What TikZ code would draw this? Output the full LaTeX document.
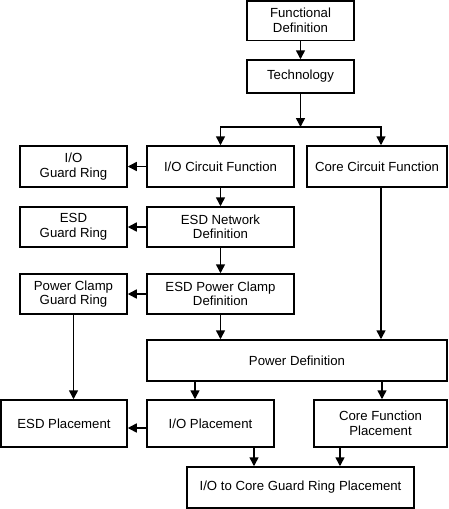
\documentclass[tikz,border=0pt]{standalone}
\usepackage{fontspec}
\setmainfont{Liberation Sans}
\usetikzlibrary{arrows.meta,calc}
\begin{document}
\begin{tikzpicture}[x=1pt,y=-1pt,
  box/.style={draw,line width=1.5pt,inner sep=0pt,align=center,
    font=\fontsize{13.2}{14.5}\selectfont},
  arr/.style={line width=1.5pt,-{Triangle[length=9pt,width=9pt]}},
  ln/.style={line width=1.5pt}]
\useasboundingbox (0,0) rectangle (448,509);
\node[box,minimum width=107pt,minimum height=39.5pt] (fd) at (300.5,20.5) {Functional\\Definition};
\node[box,minimum width=107pt,minimum height=33pt] (tech) at (300.5,76.5) {Technology};
\node[box,minimum width=107pt,minimum height=41pt] (iogr) at (73.5,166.5) {I/O\\Guard Ring};
\node[box,minimum width=147pt,minimum height=41pt] (icf) at (220.5,166.5) {I/O Circuit Function};
\node[box,minimum width=140pt,minimum height=41pt] (ccf) at (377,166.5) {Core Circuit Function};
\node[box,minimum width=107pt,minimum height=40pt] (esdgr) at (73.5,227) {ESD\\Guard Ring};
\node[box,minimum width=147pt,minimum height=40pt] (esdnd) at (220.5,227) {ESD Network\\Definition};
\node[box,minimum width=107pt,minimum height=40pt] (pcgr) at (73.5,294) {Power Clamp\\Guard Ring};
\node[box,minimum width=147pt,minimum height=40pt] (epcd) at (220.5,294) {ESD Power Clamp\\Definition};
\node[box,minimum width=300pt,minimum height=41pt] (pd) at (297,360.5) {Power Definition};
\node[box,minimum width=126pt,minimum height=47pt] (esdp) at (64,423.5) {ESD Placement};
\node[box,minimum width=127pt,minimum height=47pt] (iop) at (210.5,423.5) {I/O Placement};
\node[box,minimum width=133pt,minimum height=47pt] (cfp) at (380.5,423.5) {Core Function\\Placement};
\node[box,minimum width=227pt,minimum height=41pt] (gr) at (300.5,487.5) {I/O to Core Guard Ring Placement};
\coordinate (j) at (300.5,127);
\coordinate (cx) at (381,0);
\draw[arr] (fd.south) -- (tech.north);
\draw[arr] (tech.south) -- (j);
\draw[arr] (j) -| (icf.north);
\draw[arr] (j) -| (cx |- ccf.north);
\draw[arr] (icf.west) -- (iogr.east);
\draw[arr] (icf.south) -- (esdnd.north);
\draw[arr] (esdnd.west) -- (esdgr.east);
\draw[arr] (esdnd.south) -- (epcd.north);
\draw[arr] (epcd.west) -- (pcgr.east);
\draw[arr] (pcgr.south) -- (pcgr.south |- esdp.north);
\draw[arr] (epcd.south) -- (epcd.south |- pd.north);
\draw[arr] (cx |- ccf.south) -- (cx |- pd.north);
\coordinate (p1) at (195,0);
\coordinate (p2) at (382,0);
\draw[arr] (p1 |- pd.south) -- (p1 |- iop.north);
\draw[arr] (p2 |- pd.south) -- (p2 |- cfp.north);
\coordinate (yl) at (0,428);
\draw[arr] (iop.west |- yl) -- (esdp.east |- yl);
\coordinate (q1) at (254,0);
\coordinate (q2) at (340,0);
\draw[arr] (q1 |- iop.south) -- (q1 |- gr.north);
\draw[arr] (q2 |- cfp.south) -- (q2 |- gr.north);
\end{tikzpicture}
\end{document}
